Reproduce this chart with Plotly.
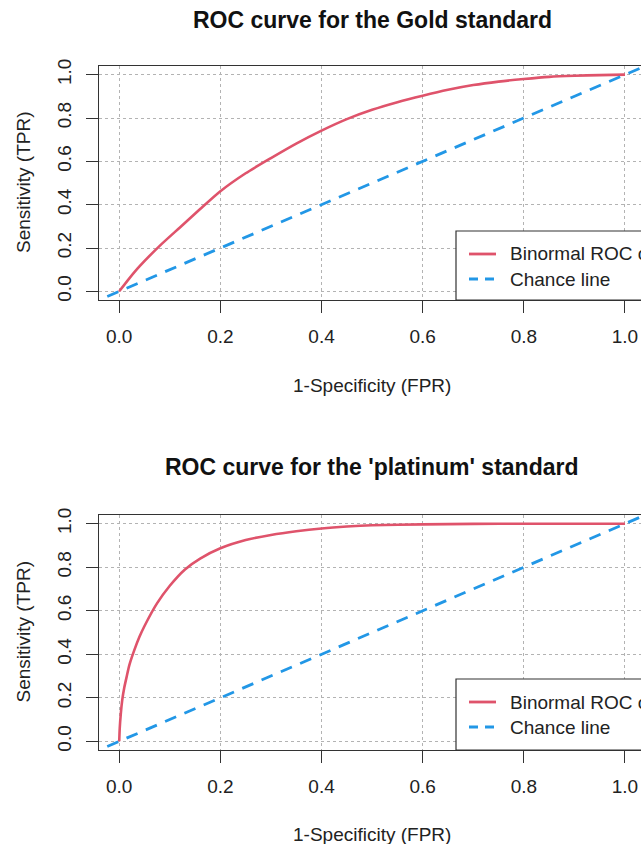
import plotly.graph_objects as go

# ---- data ----
gold_fpr = [0.0, 0.02, 0.04, 0.08, 0.12, 0.16, 0.20, 0.25, 0.30, 0.35, 0.40, 0.45,
            0.50, 0.55, 0.60, 0.65, 0.70, 0.75, 0.80, 0.85, 0.90, 0.95, 1.0]
gold_tpr = [0.0, 0.06, 0.115, 0.21, 0.295, 0.38, 0.462, 0.545, 0.615, 0.682, 0.742, 0.795,
            0.838, 0.873, 0.903, 0.93, 0.952, 0.968, 0.98, 0.99, 0.995, 0.998, 1.0]

plat_fpr = [0.0, 0.001, 0.003, 0.006, 0.01, 0.015, 0.02, 0.03, 0.04, 0.05, 0.075, 0.10,
            0.13, 0.16, 0.20, 0.25, 0.30, 0.35, 0.40, 0.45, 0.50, 0.60, 0.70, 0.80, 1.0]
plat_tpr = [0.0, 0.06, 0.124, 0.19, 0.247, 0.30, 0.35, 0.42, 0.48, 0.53, 0.635, 0.715,
            0.79, 0.84, 0.887, 0.925, 0.948, 0.965, 0.978, 0.987, 0.993, 0.997, 0.999, 1.0, 1.0]

chance_x = [-0.1, 1.1]
chance_y = [-0.1, 1.1]

titles = ["ROC curve for the Gold standard", "ROC curve for the 'platinum' standard"]
x_label = "1-Specificity (FPR)"
y_label = "Sensitivity (TPR)"
legend_labels = ["Binormal ROC curve", "Chance line"]
tick_vals = [0.0, 0.2, 0.4, 0.6, 0.8, 1.0]

# ---- layout helpers ----
W, H = 641, 844
ML = 99
PW = W - ML
FONT = "Liberation Sans, Arial, sans-serif"
RED = "#DF536B"
BLUE = "#2297E6"
FRAME = "#333333"
GRID = "#b3b3b3"


def px_x(p):
    return (p - ML) / PW


def px_y(p):
    return 1 - p / H


panels = [
    dict(top=66, bottom=300, fpr=gold_fpr, tpr=gold_tpr, title_y=20, xlab_y=385, leg_top=231),
    dict(top=515, bottom=750, fpr=plat_fpr, tpr=plat_tpr, title_y=467, xlab_y=834, leg_top=679),
]

fig = go.Figure()
annotations = []
shapes = []
layout_axes = {}

for i, p in enumerate(panels):
    sfx = "" if i == 0 else str(i + 1)
    xa, ya = "x" + sfx, "y" + sfx
    fig.add_trace(go.Scatter(x=p["fpr"], y=p["tpr"], mode="lines", xaxis=xa, yaxis=ya,
                             line=dict(color=RED, width=2.6, shape="spline", smoothing=0.6),
                             showlegend=False, name=legend_labels[0]))
    fig.add_trace(go.Scatter(x=chance_x, y=chance_y, mode="lines", xaxis=xa, yaxis=ya,
                             line=dict(color=BLUE, width=2.8, dash="12px,9px"),
                             showlegend=False, name=legend_labels[1]))
    dom = [px_y(p["bottom"]), px_y(p["top"])]
    common = dict(tickvals=tick_vals, tickformat=".1f", ticks="outside", ticklen=12,
                  tickcolor=FRAME, tickwidth=1, showline=True, linecolor=FRAME, linewidth=1.2,
                  showgrid=True, gridcolor=GRID, griddash="dot", gridwidth=1,
                  zeroline=False, tickfont=dict(family=FONT, size=19, color="#222"))
    layout_axes["xaxis" + sfx] = dict(domain=[0, 1], range=[-0.04, (W - 120) / 505.0],
                                      anchor=ya, mirror=True, ticklabelstandoff=7, **common)
    layout_axes["yaxis" + sfx] = dict(domain=dom, range=[-0.04, 1.04], anchor=xa,
                                      tickangle=-90, ticklabelstandoff=7, **common)
    # titles
    annotations.append(dict(text="<b>" + titles[i] + "</b>", xref="paper", yref="paper",
                            x=px_x(372), y=px_y(p["title_y"]), xanchor="center", yanchor="middle",
                            showarrow=False, font=dict(family=FONT, size=23, color="#111")))
    annotations.append(dict(text=x_label, xref="paper", yref="paper",
                            x=px_x(372), y=px_y(p["xlab_y"]), xanchor="center", yanchor="middle",
                            showarrow=False, font=dict(family=FONT, size=19, color="#222")))
    annotations.append(dict(text=y_label, xref="paper", yref="paper", textangle=-90,
                            x=px_x(23), y=px_y((p["top"] + p["bottom"]) / 2),
                            xanchor="center", yanchor="middle",
                            showarrow=False, font=dict(family=FONT, size=19, color="#222")))
    # legend box
    lt = p["leg_top"]
    shapes.append(dict(type="rect", xref="paper", yref="paper", x0=px_x(456), x1=1.2,
                       y0=px_y(p["bottom"]), y1=px_y(lt), fillcolor="white",
                       line=dict(color=FRAME, width=1.2), layer="above"))
    for j, (col, dash) in enumerate([(RED, "solid"), (BLUE, "9px,7px")]):
        yy = lt + 23 + 25 * j
        shapes.append(dict(type="line", xref="paper", yref="paper", x0=px_x(469), x1=px_x(496),
                           y0=px_y(yy), y1=px_y(yy), line=dict(color=col, width=2.8, dash=dash),
                           layer="above"))
        annotations.append(dict(text=legend_labels[j], xref="paper", yref="paper",
                                x=px_x(508), y=px_y(yy), xanchor="left", yanchor="middle",
                                showarrow=False, font=dict(family=FONT, size=19, color="#222")))

fig.update_layout(width=W, height=H, margin=dict(l=ML, r=0, t=0, b=0, autoexpand=False),
                  paper_bgcolor="white", plot_bgcolor="white", showlegend=False,
                  annotations=annotations, shapes=shapes, **layout_axes)

fig.write_html("out.html", config={"displayModeBar": False},
               post_script="document.body.style.margin='0';document.body.style.overflow='hidden';")
